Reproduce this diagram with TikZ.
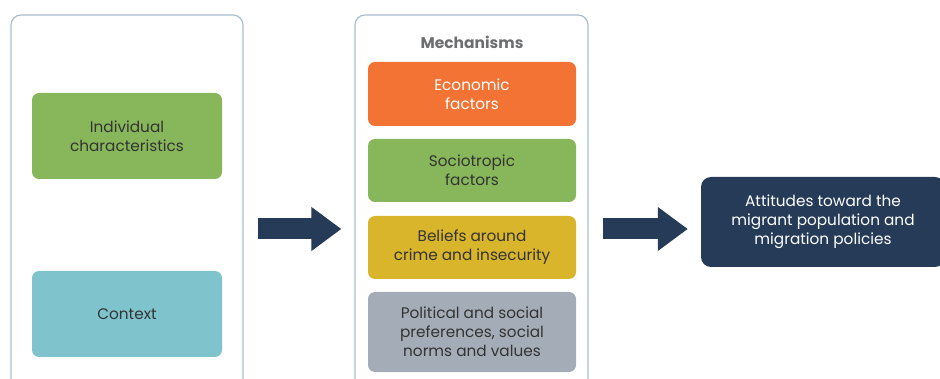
\documentclass[tikz,border=0pt]{standalone}
\usepackage{fontspec}
\setmainfont{Poppins}
\usepackage{xcolor}
\usepackage{tikz}
\usetikzlibrary{arrows.meta}

\definecolor{panelline}{HTML}{A7BFCD}
\definecolor{grn}{HTML}{87B75A}
\definecolor{teal}{HTML}{7FC4CD}
\definecolor{orng}{HTML}{F37335}
\definecolor{yell}{HTML}{D9B52B}
\definecolor{gry}{HTML}{A4ADB7}
\definecolor{navy}{HTML}{253B57}
\definecolor{txt}{HTML}{333333}
\definecolor{ttl}{HTML}{6D6E71}

\tikzset{
  panel/.style={draw=panelline, line width=1.2pt, rounded corners=10pt, inner sep=0pt, minimum width=232pt, minimum height=400pt},
  box/.style={rounded corners=7pt, inner sep=0pt, align=center, text=txt, font=\fontsize{15.3}{19}\selectfont},
  bigarrow/.style={navy, line width=21pt, -{Triangle[length=30pt,width=42pt]}, shorten <=14pt, shorten >=13pt}
}

\begin{document}
\begin{tikzpicture}[x=1pt,y=-1pt]
\useasboundingbox (0,0) rectangle (940,379);
\clip (0,0) rectangle (940,379);

\node[panel] (lpanel) at (127,215) {};
\node[panel, minimum width=233pt] (mpanel) at (471.5,215) {};

\node[box, fill=grn, minimum width=190pt, minimum height=86pt] (ind) at (127,136) {Individual\\characteristics};
\node[box, fill=teal, minimum width=190pt, minimum height=86pt] (ctx) at (127,314) {Context};

\node[text=ttl, font=\fontsize{15.5}{18}\selectfont\bfseries] (mech) at (472,42) {Mechanisms};
\node[box, fill=orng, text=white, minimum width=208pt, minimum height=64pt] (econ) at (472,94) {Economic\\factors};
\node[box, fill=grn, minimum width=208pt, minimum height=63pt] (socio) at (472,170.5) {Sociotropic\\factors};
\node[box, fill=yell, minimum width=208pt, minimum height=63pt] (crime) at (472,247.5) {Beliefs around\\crime and insecurity};
\node[box, fill=gry, minimum width=208pt, minimum height=80pt] (norms) at (472,332) {Political and social\\preferences, social\\norms and values};

\node[box, fill=navy, text=white, rounded corners=10pt, minimum width=244pt, minimum height=90pt] (att) at (823,222) {Attitudes toward the\\migrant population and\\migration policies};

\draw[bigarrow] (lpanel.east |- 0,229) -- (mpanel.west |- 0,229);
\draw[bigarrow] (mpanel.east |- 0,229) -- (att.west |- 0,229);
\end{tikzpicture}
\end{document}
